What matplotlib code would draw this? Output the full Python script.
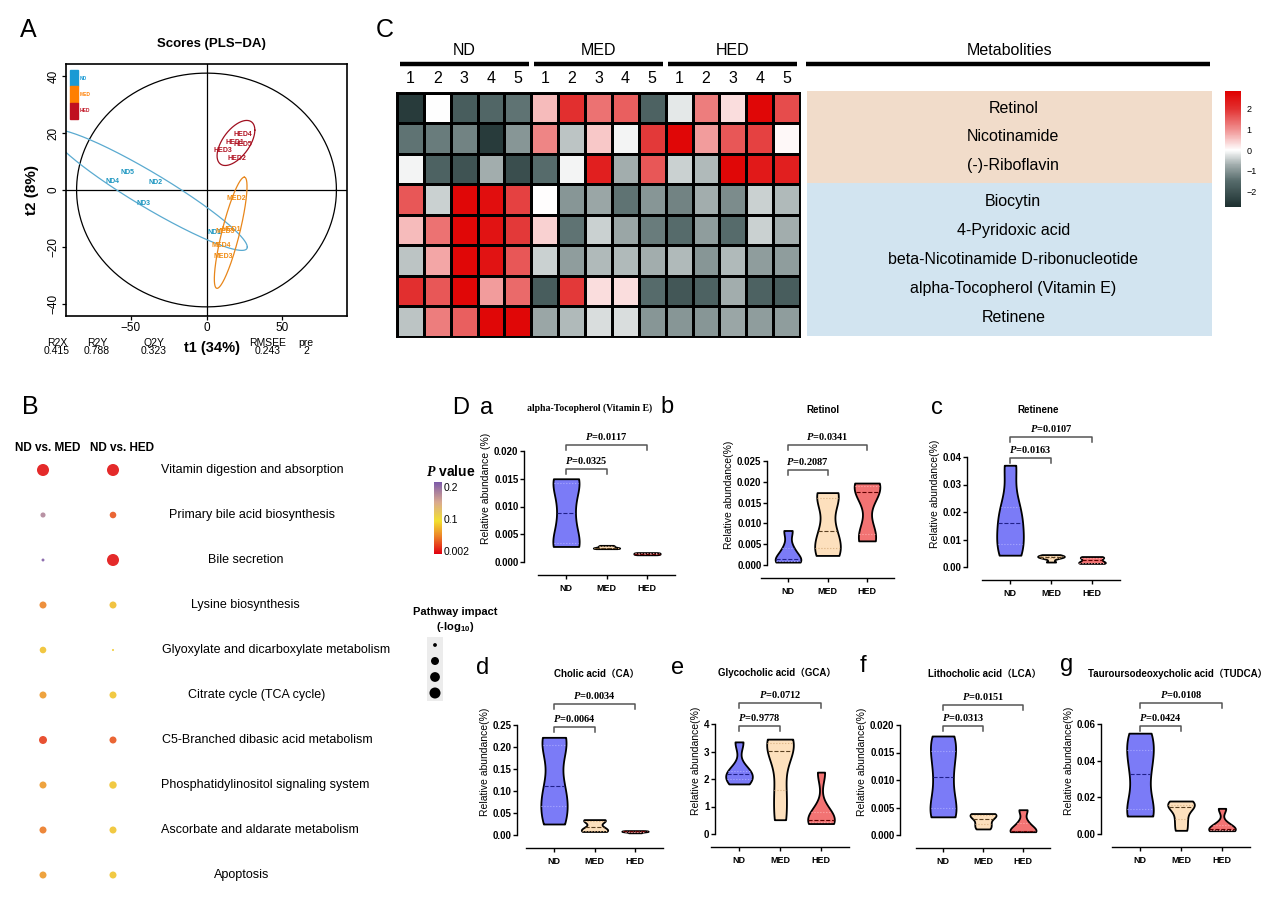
import numpy as np
import matplotlib
matplotlib.use('Agg')
import matplotlib.pyplot as plt
from matplotlib.colors import LinearSegmentedColormap, Normalize
from matplotlib.cm import ScalarMappable
from matplotlib.patches import Rectangle

W, H = 1269, 906

plt.rcParams['font.family'] = ['Liberation Sans', 'Noto Sans CJK SC', 'DejaVu Sans']
plt.rcParams['mathtext.fontset'] = 'custom'
plt.rcParams['mathtext.rm'] = 'Liberation Sans:bold'
plt.rcParams['mathtext.it'] = 'Liberation Serif:italic:bold'
plt.rcParams['axes.unicode_minus'] = True

# ---------------- data ----------------
# A: PLS-DA scores
nd_names = ['ND1', 'ND2', 'ND3', 'ND4', 'ND5']
nd_t1 = [5, -34, -42, -62, -52]
nd_t2 = [-15, 2.8, -4.6, 3.0, 6.3]
med_names = ['MED1', 'MED2', 'MED3', 'MED4', 'MED5']
med_t1 = [16.5, 20, 11, 10, 12.5]
med_t2 = [-13.7, -3, -23.5, -19.6, -14.5]
hed_names = ['HED1', 'HED2', 'HED3', 'HED4', 'HED5']
hed_t1 = [18.5, 20, 10.6, 24, 24]
hed_t2 = [16.5, 11, 14, 19.6, 15.8]
# confidence ellipses: centre, conjugate half-axes
nd_ell = [(-38, 0), (65, -20), (0, 7)]
med_ell = [(16, -15), (9, 19.5), (6, 0)]
hed_ell = [(19.5, 16.5), (12.5, 4.5), (0, 6.5)]
hotelling = (86, 41)
stat_names = ['R2X', 'R2Y', 'Q2Y', 'RMSEE', 'pre']
stat_values = ['0.415', '0.788', '0.323', '0.243', '2']

# C: heatmap (z-scores)
metabolites = ['Retinol', 'Nicotinamide', '(-)-Riboflavin', 'Biocytin', '4-Pyridoxic acid',
               'beta-Nicotinamide D-ribonucleotide', 'alpha-Tocopherol (Vitamin E)', 'Retinene']
groups = ['ND', 'MED', 'HED']
heat_z = [
    [-2.5, 0.0, -1.8, -1.6, -1.4, 0.6, 2.0, 1.3, 1.5, -1.7, -0.2, 1.2, 0.3, 2.7, 1.7],
    [-1.4, -1.3, -1.2, -2.5, -1.0, 1.1, -0.5, 0.5, -0.1, 1.9, 2.7, 0.9, 1.6, 1.8, 0.05],
    [-0.1, -1.7, -2.0, -0.7, -2.1, -1.5, -0.1, 2.3, -0.7, 1.6, -0.4, -0.6, 2.7, 2.4, 2.3],
    [1.6, -0.4, 2.7, 2.6, 1.8, 0.02, -1.0, -0.8, -1.4, -1.0, -1.2, -0.7, -1.1, -0.4, -0.6],
    [0.6, 1.3, 2.7, 2.5, 1.9, 0.4, -1.4, -0.4, -0.8, -1.3, -1.5, -0.9, -1.5, -0.4, -0.7],
    [-0.5, 0.8, 2.7, 2.5, 1.6, -0.4, -0.9, -0.6, -0.6, -0.7, -0.6, -1.0, -0.6, -0.9, -0.9],
    [2.0, 1.6, 2.7, 0.9, 1.4, -1.8, 1.9, 0.3, 0.3, -1.5, -1.9, -1.7, -0.7, -1.7, -1.8],
    [-0.5, 1.2, 1.5, 2.7, 2.7, -0.8, -0.6, -0.3, -0.3, -1.0, -1.0, -1.0, -0.8, -0.9, -0.9],
]

# B: pathway enrichment
pathways = ['Vitamin digestion and absorption', 'Primary bile acid biosynthesis', 'Bile secretion',
            'Lysine biosynthesis', 'Glyoxylate and dicarboxylate metabolism', 'Citrate cycle (TCA cycle)',
            'C5-Branched dibasic acid metabolism', 'Phosphatidylinositol signaling system',
            'Ascorbate and aldarate metabolism', 'Apoptosis']
p_med = [0.002, 0.18, 0.21, 0.05, 0.08, 0.06, 0.02, 0.06, 0.045, 0.06]
p_hed = [0.002, 0.03, 0.002, 0.078, 0.085, 0.082, 0.03, 0.082, 0.082, 0.082]
impact_med = [0.5, 0.09, 0.03, 0.17, 0.15, 0.17, 0.22, 0.17, 0.17, 0.17]
impact_hed = [0.5, 0.15, 0.5, 0.17, 0.015, 0.17, 0.17, 0.19, 0.17, 0.17]
impact_legend = [0.05, 0.22, 0.33, 0.42]

# D: relative abundance (%) per group ND, MED, HED
vit_e = [[0.0028, 0.0034, 0.0088, 0.0143, 0.0150], [0.0024, 0.0025, 0.0026, 0.0028, 0.0030],
         [0.0013, 0.0014, 0.0015, 0.0016, 0.0017]]
retinol = [[0.0007, 0.0010, 0.0015, 0.0040, 0.0083], [0.0023, 0.0040, 0.0081, 0.0160, 0.0174],
           [0.0058, 0.0075, 0.0175, 0.0190, 0.0197]]
retinene = [[0.0043, 0.0085, 0.016, 0.022, 0.037], [0.0018, 0.0033, 0.0037, 0.0040, 0.0045],
            [0.0013, 0.0016, 0.0024, 0.0033, 0.0038]]
cholic = [[0.025, 0.065, 0.111, 0.205, 0.222], [0.008, 0.010, 0.018, 0.032, 0.035],
          [0.005, 0.007, 0.008, 0.009, 0.010]]
glycocholic = [[1.82, 2.0, 2.2, 2.3, 3.35], [0.52, 1.6, 3.02, 3.3, 3.45], [0.38, 0.45, 0.52, 0.8, 2.25]]
lithocholic = [[0.0033, 0.005, 0.0105, 0.0153, 0.018], [0.0011, 0.0020, 0.0030, 0.0037, 0.0039],
               [0.0006, 0.0007, 0.0008, 0.0022, 0.0046]]
tudca = [[0.0098, 0.0135, 0.033, 0.046, 0.055], [0.002, 0.008, 0.0145, 0.016, 0.018],
         [0.0018, 0.0022, 0.0025, 0.005, 0.014]]
pvals_d = {'a': ('0.0325', '0.0117'), 'b': ('0.2087', '0.0341'), 'c': ('0.0163', '0.0107'),
           'd': ('0.0064', '0.0034'), 'e': ('0.9778', '0.0712'), 'f': ('0.0313', '0.0151'),
           'g': ('0.0424', '0.0108')}

# ---------------- figure ----------------
fig = plt.figure(figsize=(W / 100, H / 100), dpi=100)


def px_box(x0, y0, x1, y1):
    return [x0 / W, 1 - y1 / H, (x1 - x0) / W, (y1 - y0) / H]


over = fig.add_axes([0, 0, 1, 1])
over.set_xlim(0, W)
over.set_ylim(H, 0)
over.axis('off')
over.set_zorder(10)
over.patch.set_visible(False)

for lab, x, y in [('A', 28, 30), ('C', 385, 30), ('B', 30, 407)]:
    over.text(x, y, lab, fontsize=18, ha='center', va='center')

# ---- A ----
axA = fig.add_axes(px_box(66, 64, 347, 316))
axA.set_xlim(-93, 93)
axA.set_ylim(-44.2, 44.2)
t = np.linspace(0, 2 * np.pi, 400)
axA.plot(hotelling[0] * np.cos(t), hotelling[1] * np.sin(t), color='black', lw=0.9)
axA.axhline(0, color='black', lw=0.9)
axA.axvline(0, color='black', lw=0.9)
grp = [(nd_names, nd_t1, nd_t2, nd_ell, '#1a95c0', '#5aaad0'),
       (med_names, med_t1, med_t2, med_ell, '#f08a10', '#e8861a'),
       (hed_names, hed_t1, hed_t2, hed_ell, '#b01020', '#a01020')]
for names, xs, ys, ell, tc, ec in grp:
    (cx, cy), (ux, uy), (vx, vy) = ell
    axA.plot(cx + ux * np.cos(t) + vx * np.sin(t), cy + uy * np.cos(t) + vy * np.sin(t), color=ec, lw=0.9)
    for n, x, y in zip(names, xs, ys):
        axA.text(x, y, n, color=tc, fontsize=5, fontweight='bold', ha='center', va='center')
axA.set_xticks([-50, 0, 50])
axA.set_yticks([-40, -20, 0, 20, 40])
axA.tick_params(labelsize=8.5, length=3, width=0.9, pad=1.5)
for lab in axA.get_yticklabels():
    lab.set_rotation(90)
    lab.set_va('center')
for s in axA.spines.values():
    s.set_linewidth(1.2)
for i, (g, c) in enumerate(zip(groups, ['#1a9ad4', '#ff7f00', '#c01020'])):
    axA.add_patch(Rectangle((0.014, 0.976 - (i + 1) * 0.065), 0.03, 0.065, color=c, transform=axA.transAxes))
    axA.text(0.047, 0.976 - (i + 0.5) * 0.065, g, color=c, fontsize=3.5, fontweight='bold',
             va='center', transform=axA.transAxes)
over.text(211, 44, 'Scores (PLS\u2212DA)', fontsize=9.5, fontweight='bold', ha='center', va='center')
over.text(32, 190, 't2 (8%)', fontsize=11, fontweight='bold', rotation=90, ha='center', va='center')
for n, v, x in zip(stat_names, stat_values, [57, 97, 154, 268, 306]):
    over.text(x, 343, n, fontsize=7.5, ha='center', va='center')
    over.text(x, 351, v, fontsize=7.5, ha='center', va='center')
over.text(212, 348, 't1 (34%)', fontsize=10.5, fontweight='bold', ha='center', va='center')

# ---- C ----
heat_cmap = LinearSegmentedColormap.from_list('heat', [
    (0.0, '#1d3030'), (0.223, '#566b6b'), (0.366, '#a3aeae'), (0.491, '#ffffff'),
    (0.67, '#f09090'), (0.848, '#e23030'), (1.0, '#e00000')])
axC = fig.add_axes(px_box(397, 92.7, 800, 336.7))
mesh = axC.pcolormesh(np.array(heat_z), cmap=heat_cmap, vmin=-2.75, vmax=2.85,
                      edgecolors='black', linewidth=1.0)
axC.set_xlim(0, 15)
axC.set_ylim(8, 0)
axC.set_xticks([])
axC.set_yticks([])
for s in axC.spines.values():
    s.set_linewidth(1.4)
for gi, g in enumerate(groups):
    axC.plot([gi * 5 + 0.1, gi * 5 + 4.9], [-0.93, -0.93], color='black', lw=3.2, clip_on=False,
             solid_capstyle='butt')
    axC.text(gi * 5 + 2.5, -1.38, g, fontsize=11.5, ha='center', va='center')
    for k in range(5):
        axC.text(gi * 5 + k + 0.5, -0.45, str(k + 1), fontsize=11.5, ha='center', va='center')
over.plot([806, 1210], [64.3, 64.3], color='black', lw=3.2, solid_capstyle='butt')
over.text(1010, 50.7, 'Metabolities', fontsize=11.5, ha='center', va='center')

axL = fig.add_axes(px_box(806.7, 91, 1211.7, 336))
axL.set_xlim(0, 1)
axL.set_ylim(8, 0)
axL.axis('off')
axL.axhspan(0, 3, color='#f1dcca', lw=0)
axL.axhspan(3, 8, color='#d2e4f0', lw=0)
for i, m in enumerate(metabolites):
    if i < 3:
        y = 1.5 + (i - 1) * 0.94
    else:
        y = 5.5 + (i - 5) * 0.94
    axL.text(0.51, y, m, fontsize=11.5, ha='center', va='center')

axCb = fig.add_axes(px_box(1225, 91, 1241, 207))
cb = fig.colorbar(mesh, cax=axCb, ticks=[-2, -1, 0, 1, 2])
cb.outline.set_visible(False)
axCb.tick_params(length=0, labelsize=6.5, pad=4)

# ---- B ----
p_cmap = LinearSegmentedColormap.from_list('pv', [
    (0.0, '#e00010'), (0.25, '#ec8428'), (0.46, '#f2e030'), (0.72, '#d9a98f'), (1.0, '#7d5aa9')])
p_norm = Normalize(-0.006, 0.215)
axB = fig.add_axes(px_box(0, 455, 420, 890))
axB.set_xlim(-43 / 70, (420 - 43) / 70)
axB.set_ylim((890 - 470) / 45, -(470 - 455) / 45)
axB.axis('off')
rows = np.arange(len(pathways))
for j, (pv, imp) in enumerate([(p_med, impact_med), (p_hed, impact_hed)]):
    axB.scatter(np.full(len(rows), j), rows, s=np.array(imp) * 150, c=pv, cmap=p_cmap, norm=p_norm,
                edgecolors='none', alpha=0.9)
label_cx = [252, 252, 246, 245, 276, 257, 267, 265, 260, 242]
for r, name, cx in zip(rows, pathways, label_cx):
    axB.text((cx - 43) / 70, r, name, fontsize=9, ha='center', va='center')
axB.text(0.06, -0.49, 'ND vs. MED', fontsize=8.5, fontweight='bold', ha='center', va='center')
axB.text(1.13, -0.49, 'ND vs. HED', fontsize=8.5, fontweight='bold', ha='center', va='center')

axP = fig.add_axes(px_box(434, 482, 442, 554))
pcb = fig.colorbar(ScalarMappable(norm=p_norm, cmap=p_cmap), cax=axP, ticks=[0.002, 0.1, 0.2])
pcb.ax.set_yticklabels(['0.002', '0.1', '0.2'])
pcb.outline.set_visible(False)
axP.tick_params(length=0, labelsize=7.5, pad=1)
over.text(451, 472, r'$\mathit{P}$ value', fontsize=10, fontweight='bold', ha='center', va='center')

over.text(455, 612, 'Pathway impact', fontsize=8, fontweight='bold', ha='center', va='center')
over.text(455, 627, '(-log$_{10}$)', fontsize=8, fontweight='bold', ha='center', va='center')
axI = fig.add_axes(px_box(427, 637, 443, 701))
axI.set_xlim(-1, 1)
axI.set_ylim(len(impact_legend) - 0.5, -0.5)
axI.set_xticks([])
axI.set_yticks([])
axI.set_facecolor('#ececec')
for s in axI.spines.values():
    s.set_visible(False)
axI.scatter(np.zeros(len(impact_legend)), np.arange(len(impact_legend)), s=np.array(impact_legend) * 150,
            color='black', edgecolors='none')

# ---- D ----
viol_colors = ['#7b7bf7', '#fde0bd', '#f27373']
med_colors = ['#20208a', '#5a4020', '#600000']
q_colors = ['#aaaaff', '#d8b080', '#ffaaaa']


def violin_panel(key, data, spine_x, nd_x, step, y0, top_px, top_val, ticks, fmt, ylabel, low_off, up_off,
                 title, title_xy, title_font, letter_xy):
    ppu = (y0 - top_px) / top_val
    xl = -(nd_x - spine_x) / step
    xr = 2.75
    ymin = -12.5 / ppu
    ymax = top_val + 48 / ppu
    ax = fig.add_axes(px_box(spine_x, y0 - ymax * ppu, spine_x + (xr - xl) * step, y0 - ymin * ppu))
    ax.set_xlim(xl, xr)
    ax.set_ylim(ymin, ymax)
    ax.patch.set_visible(False)
    parts = ax.violinplot(data, positions=[0, 1, 2], widths=0.65, showextrema=False, bw_method=0.5)
    for k, body in enumerate(parts['bodies']):
        body.set_facecolor(viol_colors[k])
        body.set_edgecolor('black')
        body.set_linewidth(1.3)
        body.set_alpha(1)
        verts = body.get_paths()[0].vertices
        right = verts[verts[:, 0] > k]
        order = np.argsort(right[:, 1])
        q1, q2, q3 = np.percentile(data[k], [25, 50, 75])
        for q, ls, col, lw in [(q1, ':', q_colors[k], 0.8), (q3, ':', q_colors[k], 0.8),
                               (q2, '--', med_colors[k], 0.8)]:
            hw = np.interp(q, right[order, 1], right[order, 0]) - k
            ax.plot([k - hw * 0.95, k + hw * 0.95], [q, q], ls=ls, color=col, lw=lw)
    for s in ['top', 'right']:
        ax.spines[s].set_visible(False)
    ax.spines['left'].set_bounds(0, top_val)
    ax.spines['bottom'].set_bounds(-0.68, 2.68)
    ax.spines['left'].set_linewidth(1.0)
    ax.spines['bottom'].set_linewidth(1.0)
    ax.set_yticks(ticks)
    ax.set_yticklabels([fmt.format(v) for v in ticks], fontweight='bold')
    ax.set_xticks([0, 1, 2])
    ax.set_xticklabels(groups, fontweight='bold')
    ax.tick_params(axis='y', labelsize=7, length=3, width=1, pad=1)
    ax.tick_params(axis='x', labelsize=6.5, length=3, width=1, pad=4)
    ax.set_ylabel(ylabel, fontsize=7.5, labelpad=2)
    leg = 4.5 / ppu
    for end, off, ptxt in [(1, low_off, pvals_d[key][0]), (2, up_off, pvals_d[key][1])]:
        y = top_val + off / ppu
        ax.plot([0, 0, end, end], [y - leg, y, y, y - leg], color='#555555', lw=1.1, clip_on=False)
        ax.text(end / 2, y + 3 / ppu, r'$\mathit{P}$=' + ptxt, ha='center', va='bottom', fontsize=7.5,
                fontfamily='Liberation Serif', fontweight='bold')
    over.text(title_xy[0], title_xy[1], title, fontsize=7, fontweight='bold', ha='center', va='center',
              fontfamily=title_font)
    over.text(letter_xy[0], letter_xy[1], key, fontsize=17, ha='center', va='center')


sans_cjk = ['Liberation Sans', 'Noto Sans CJK SC']
violin_panel('a', vit_e, 524, 566, 40.5, 562, 451, 0.020, [0, 0.005, 0.01, 0.015, 0.02], '{:.3f}',
             'Relative abundance (%)', -18, 6, 'alpha-Tocopherol (Vitamin E)', (590, 408),
             ['Liberation Serif'], (487, 408))
over.text(461, 408, 'D', fontsize=17, ha='center', va='center')
violin_panel('b', retinol, 767, 788, 39.5, 565, 461, 0.025, [0, 0.005, 0.01, 0.015, 0.02, 0.025], '{:.3f}',
             'Relative abundance(%)', -9, 16, 'Retinol', (823, 410), sans_cjk, (667, 407))
violin_panel('c', retinene, 967, 1010, 41, 567, 457, 0.04, [0, 0.01, 0.02, 0.03, 0.04], '{:.2f}',
             'Relative abundance(%)', -1, 20, 'Retinene', (1038, 410), sans_cjk, (937, 408))
violin_panel('d', cholic, 517, 554, 40.5, 835, 725, 0.25, [0, 0.05, 0.1, 0.15, 0.2, 0.25], '{:.2f}',
             'Relative abundance(%)', -2, 21, 'Cholic acid\uff08CA\uff09', (597, 674), sans_cjk, (483, 668))
violin_panel('e', glycocholic, 715, 739, 41, 834, 724, 4, [0, 1, 2, 3, 4], '{:.0f}',
             'Relative abundance(%)', -2, 21, 'Glycocholic acid\uff08GCA\uff09', (777, 673), sans_cjk, (678, 668))
violin_panel('f', lithocholic, 900, 943, 40, 835, 725, 0.020, [0, 0.005, 0.01, 0.015, 0.02], '{:.3f}',
             'Relative abundance(%)', -1, 20, 'Lithocholic acid\uff08LCA\uff09', (985, 674), sans_cjk, (863, 666))
violin_panel('g', tudca, 1101, 1140, 41, 834, 724, 0.06, [0, 0.02, 0.04, 0.06], '{:.2f}',
             'Relative abundance(%)', -2, 21, 'Tauroursodeoxycholic acid\uff08TUDCA\uff09', (1178, 674),
             sans_cjk, (1067, 665))

fig.savefig('out.png', dpi=100)
